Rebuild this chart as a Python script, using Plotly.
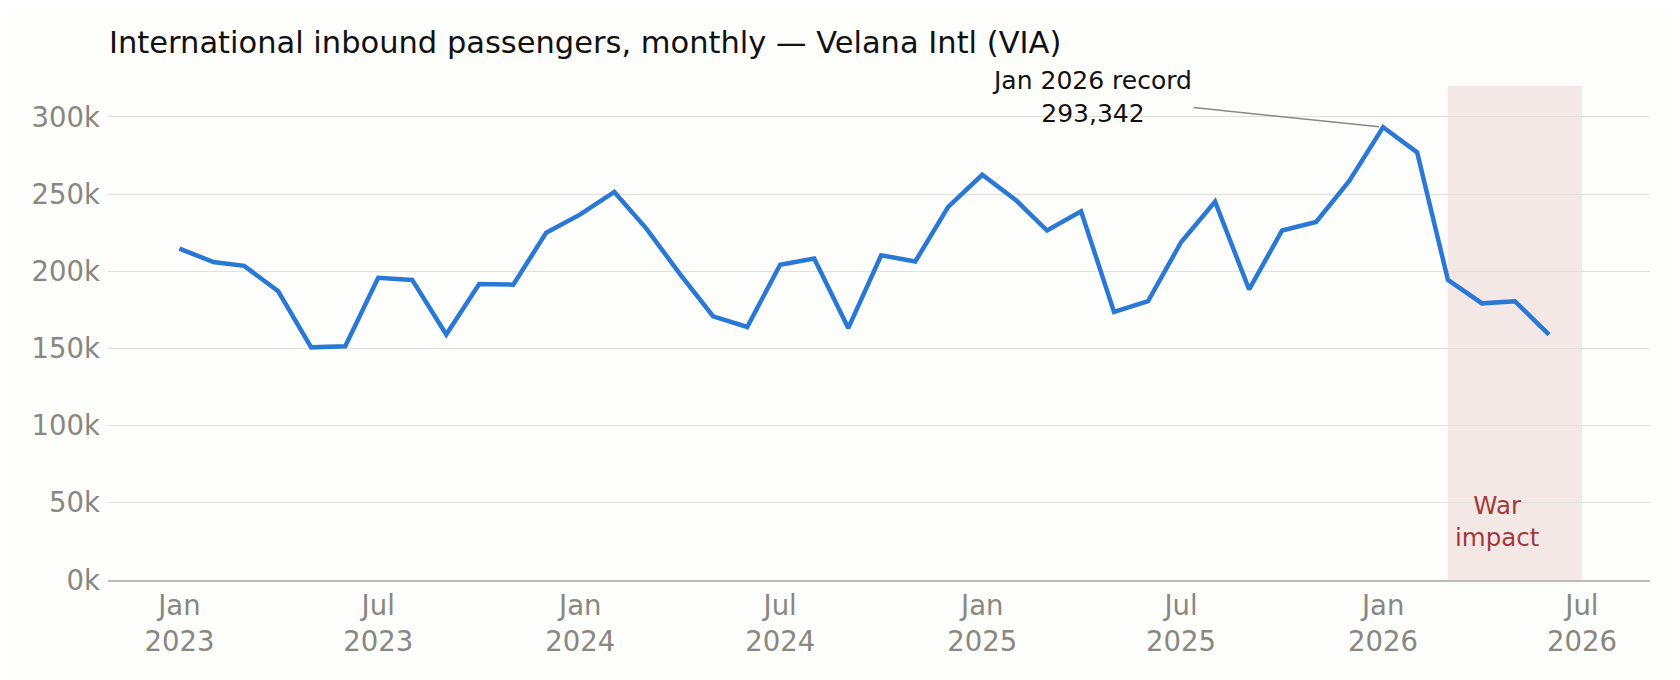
import plotly.graph_objects as go

# monthly international inbound passengers, Jan 2023 - Jun 2026
months = ["2023-01-01", "2023-02-01", "2023-03-01", "2023-04-01", "2023-05-01", "2023-06-01",
          "2023-07-01", "2023-08-01", "2023-09-01", "2023-10-01", "2023-11-01", "2023-12-01",
          "2024-01-01", "2024-02-01", "2024-03-01", "2024-04-01", "2024-05-01", "2024-06-01",
          "2024-07-01", "2024-08-01", "2024-09-01", "2024-10-01", "2024-11-01", "2024-12-01",
          "2025-01-01", "2025-02-01", "2025-03-01", "2025-04-01", "2025-05-01", "2025-06-01",
          "2025-07-01", "2025-08-01", "2025-09-01", "2025-10-01", "2025-11-01", "2025-12-01",
          "2026-01-01", "2026-02-01", "2026-03-01", "2026-04-01", "2026-05-01", "2026-06-01"]
passengers = [214600, 206000, 203500, 187000, 150700, 151400,
              195800, 194400, 159000, 191700, 191300, 225000,
              236800, 251400, 227800, 198000, 170800, 163900,
              204200, 208300, 163200, 210400, 206300, 241700,
              262500, 245800, 226400, 238900, 173600, 180600,
              218800, 245100, 188200, 226400, 231900, 258300,
              293342, 277000, 194400, 179200, 180600, 159000]

record_month = "2026-01-01"
record_value = 293342
war_start = "2026-03-01"
war_end = "2026-07-01"

y_ticks = [0, 50000, 100000, 150000, 200000, 250000, 300000]
y_tick_labels = ["0k", "50k", "100k", "150k", "200k", "250k", "300k"]

fig = go.Figure()

fig.add_trace(go.Scatter(x=months, y=passengers, mode="lines",
                         line=dict(color="#2a78d6", width=4.5),
                         showlegend=False))

# shaded war period
fig.add_shape(type="rect", xref="x", yref="paper",
              x0=war_start, x1=war_end, y0=0, y1=1,
              fillcolor="#f4e8e7", line=dict(width=0), layer="below")

fig.add_annotation(x="2026-04-15", y=38000, text="War<br>impact",
                   showarrow=False, font=dict(size=24.5, color="#a33a3a"))

fig.add_annotation(x=record_month, y=record_value,
                   text="Jan 2026 record<br>" + f"{record_value:,}",
                   showarrow=True, arrowhead=0, arrowwidth=1.5,
                   arrowcolor="#888888", standoff=4,
                   ax=-291, ay=-30,
                   font=dict(size=25, color="#111111"))

fig.update_layout(
    width=1680, height=680,
    paper_bgcolor="#fdfdfc", plot_bgcolor="#fdfdfc",
    font=dict(family="DejaVu Sans", color="#888780"),
    margin=dict(l=100, r=38, t=78, b=108),
    title=dict(text="International inbound passengers, monthly — Velana Intl (VIA)",
               xref="container", x=101 / 1680, xanchor="left",
               yref="container", y=1 - 34 / 680, yanchor="middle",
               font=dict(size=30.5, color="#111111")),
)

fig.update_xaxes(range=["2022-10-28", "2026-09-01"],
                 dtick="M6", tick0="2023-01-01", tickformat="%b<br>%Y",
                 showgrid=False, showline=True, linecolor="#bdbcb2", linewidth=1.5,
                 ticks="", tickfont=dict(size=27.5, color="#888780"))

fig.update_yaxes(range=[0, 320000], tickvals=y_ticks, ticktext=y_tick_labels,
                 showgrid=True, gridcolor="#e2e0db", gridwidth=1.3,
                 zeroline=False, showline=False, ticks="", ticklabelstandoff=7,
                 tickfont=dict(size=27.5, color="#888780"))

fig.write_html("out.html")
